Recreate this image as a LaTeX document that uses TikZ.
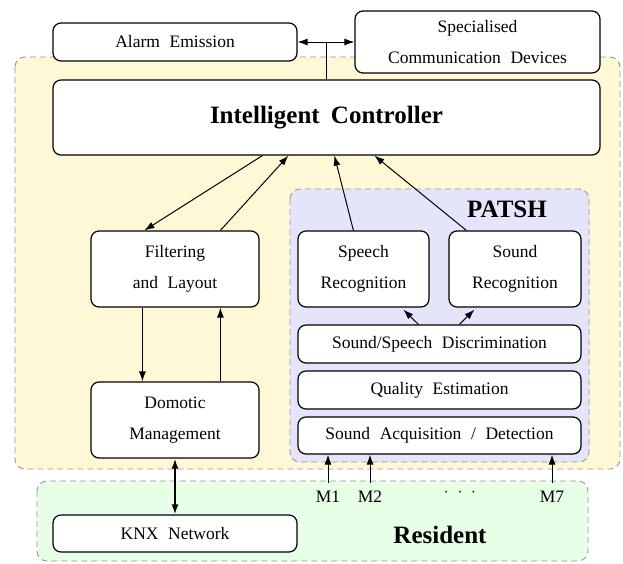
\documentclass[tikz,border=0pt]{standalone}
\usepackage{fontspec}
\setmainfont{Liberation Serif}
\usetikzlibrary{calc,arrows.meta}
\definecolor{yel}{RGB}{255,248,214}
\definecolor{lav}{RGB}{228,228,250}
\definecolor{grn}{RGB}{230,255,230}
\definecolor{dashg}{RGB}{150,150,150}
\newcommand\myboxfont{\fontsize{17.5}{31}\selectfont\spaceskip=0.55em\relax}
\newcommand\mybigfont{\fontsize{25}{30}\selectfont\bfseries\spaceskip=0.45em\relax}
\newcommand\mylblfont{\fontsize{17.5}{20}\selectfont}
\tikzset{
  box/.style={draw, rounded corners=8pt, fill=white, line width=1.2pt, align=center, inner sep=0pt,
    font=\myboxfont},
  region/.style={draw=dashg, dash pattern=on 6pt off 4pt, rounded corners=10pt, line width=0.9pt},
  big/.style={font=\mybigfont, inner sep=0pt},
  lbl/.style={font=\mylblfont, inner sep=0pt},
  arr/.style={-{Latex[length=10pt,width=7pt]}, line width=1pt},
  darr/.style={{Latex[length=10pt,width=7pt]}-{Latex[length=10pt,width=7pt]}, line width=1pt},
}
\begin{document}
\begin{tikzpicture}[x=1pt,y=-1pt]
\useasboundingbox (0,0) rectangle (623,563);
% regions
\draw[region, fill=yel] (15,57) rectangle (620,469);
\draw[region, fill=grn] (37,481) rectangle (588,561);
\draw[region, fill=lav] (290,189) rectangle (589,462);
% boxes
\node[box, minimum width=244pt, minimum height=38pt] (alarm) at (175,42) {Alarm Emission};
\node[box, minimum width=245pt, minimum height=62pt] (spec) at (477.5,42) {Specialised\\Communication Devices};
\node[box, minimum width=547pt, minimum height=75pt, font=\mybigfont] (ctrl) at (326.5,117.5) {Intelligent Controller};
\node[box, minimum width=168pt, minimum height=76pt] (filt) at (175,269) {Filtering\\and Layout};
\node[box, minimum width=168pt, minimum height=76pt] (dom) at (175,420) {Domotic\\Management};
\node[box, minimum width=131pt, minimum height=76pt] (speech) at (363.5,269) {Speech\\Recognition};
\node[box, minimum width=132pt, minimum height=76pt] (soundrec) at (515,269) {Sound\\Recognition};
\node[box, minimum width=283pt, minimum height=38pt] (disc) at (439.5,344) {Sound/Speech Discrimination};
\node[box, minimum width=283pt, minimum height=38pt] (qual) at (439.5,390) {Quality Estimation};
\node[box, minimum width=283pt, minimum height=37pt] (acq) at (439.5,435.5) {Sound Acquisition / Detection};
\node[box, minimum width=244pt, minimum height=37pt] (knx) at (175,533.5) {KNX Network};
% labels
\node[big] (patsh) at (507,209) {PATSH};
\node[big] (resident) at (440,535) {Resident};
\node[lbl] (m1) at (328,497) {M1};
\node[lbl] (m2) at (370,497) {M2};
\node[lbl] (dots) at (460,493) {$\cdot\hspace{5pt}\cdot\hspace{5pt}\cdot$};
\node[lbl] (m7) at (552,497) {M7};
% connectors
\draw[darr] (alarm.east) -- (spec.west);
\draw[line width=1pt] (ctrl.north) -- (ctrl.north |- alarm.east);
\draw[arr] ($(ctrl.south west)+(210,0)$) -- ($(filt.north west)+(54,0)$);
\draw[arr] ($(filt.north west)+(130,0)$) -- ($(ctrl.south west)+(236,0)$);
\draw[arr] ($(speech.north west)+(56,0)$) -- ($(ctrl.south west)+(282,0)$);
\draw[arr] ($(soundrec.north west)+(18,0)$) -- ($(ctrl.south west)+(322,0)$);
\draw[arr] ($(filt.south west)+(52,0)$) -- ($(dom.north west)+(52,0)$);
\draw[arr] ($(dom.north west)+(130,0)$) -- ($(filt.south west)+(130,0)$);
\draw[arr] ($(disc.north west)+(121,0)$) -- ($(speech.south west)+(106,2)$);
\draw[arr] ($(disc.north west)+(162,0)$) -- ($(soundrec.south west)+(26,2)$);
\draw[darr, line width=1.8pt] (dom.south) -- (knx.north);
\draw[arr] ([yshift=8pt]m1.north) -- (m1.north |- acq.south);
\draw[arr] ([yshift=8pt]m2.north) -- (m2.north |- acq.south);
\draw[arr] ([yshift=8pt]m7.north) -- (m7.north |- acq.south);
\end{tikzpicture}
\end{document}
